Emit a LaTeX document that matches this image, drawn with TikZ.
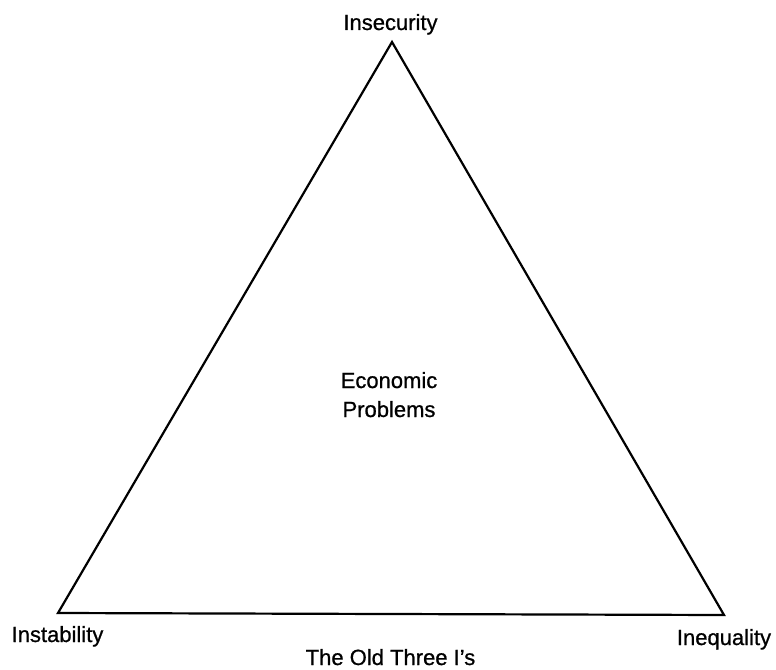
\documentclass[tikz,border=0pt]{standalone}
\usepackage{fontspec}
\setmainfont{Liberation Sans}
\newfontfamily\lblfont{Liberation Sans}[FakeBold=0.8]
\begin{document}
\begin{tikzpicture}[x=1pt,y=-1pt,
  lbl/.style={font=\lblfont\fontsize{22}{29}\selectfont, inner sep=0pt, anchor=base},
  edge/.style={line width=2.2pt, line join=miter}]
\useasboundingbox (0,0) rectangle (776,669);
\coordinate (top) at (392,42);
\coordinate (bl) at (58,613);
\coordinate (br) at (724,615);
\draw[edge] (top) -- (bl) -- (br) -- cycle;
\node[lbl] (insec) at (390.5,30) {Insecurity};
\node[lbl] (instab) at (57.5,642) {Instability};
\node[lbl] (ineq) at (724,645) {Inequality};
\node[lbl] (old) at (390.5,665) {The Old Three I’s};
\node[lbl] (econ) at (389,388) {Economic};
\node[lbl] (prob) at (389,417) {Problems};
\end{tikzpicture}
\end{document}
